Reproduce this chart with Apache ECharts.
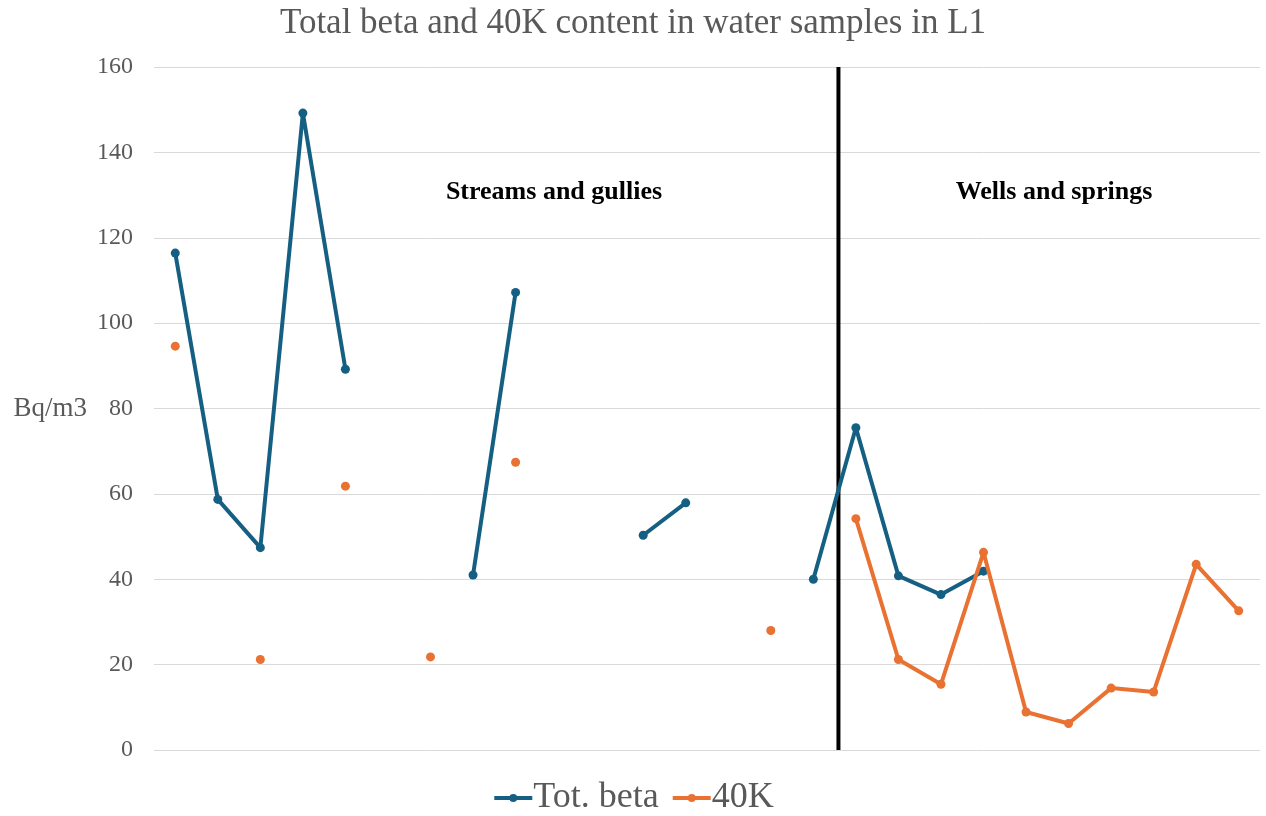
<!DOCTYPE html>
<html>
<head>
<meta charset="utf-8">
<script src="https://cdn.jsdelivr.net/npm/echarts@6/dist/echarts.min.js"></script>
<style>
  html, body { margin: 0; padding: 0; background: #fff; }
  #chart { width: 1266px; height: 816px; }
</style>
</head>
<body>
<div id="chart"></div>
<script>
// Sample slots along the x axis (26 sampling points, unlabeled)
const samples = Array.from({ length: 26 }, (_, i) => 'S' + (i + 1));

// Total beta activity, Bq/m3 (null = not measured)
const totBeta = [116.4, 58.7, 47.4, 149.2, 89.2, null, null, 41.0, 107.2, null,
                 null, 50.3, 57.9, null, null, 40.0, 75.5, 40.8, 36.4, 41.9,
                 null, null, null, null, null, null];

// 40K activity, Bq/m3 (null = not measured)
const k40 = [94.6, null, 21.2, null, 61.8, null, 21.8, null, 67.4, null,
             null, null, null, null, 28.0, null, 54.2, 21.2, 15.4, 46.3,
             8.9, 6.2, 14.5, 13.6, 43.5, 32.6];

// Divider between the two sampling groups, in category-index units
const dividerAt = 15.59;

// Group captions
const groupNames = ['Streams and gullies', 'Wells and springs'];

const yTicks = { min: 0, max: 160, interval: 20 };

const serif = '"Liberation Serif", "DejaVu Serif", serif';
const textGray = '#595959';
const blue = '#156082';
const orange = '#E97132';

const chart = echarts.init(document.getElementById('chart'));

chart.setOption({
  animation: false,
  backgroundColor: '#fff',
  title: {
    text: 'Total beta and 40K content in water samples in L1',
    left: 'center',
    top: 1,
    textStyle: { fontFamily: serif, fontSize: 35, fontWeight: 'normal', color: textGray }
  },
  legend: {
    bottom: -5,
    left: 'center',
    itemWidth: 38,
    itemHeight: 10,
    itemGap: 12,
    lineStyle: { width: 4 },
    textStyle: { fontFamily: serif, fontSize: 36, color: textGray, padding: [0, 0, 0, -4] },
    data: ['Tot. beta', '40K']
  },
  grid: { left: 154, right: 6, top: 67, bottom: 66, containLabel: false, outerBoundsMode: 'none' },
  xAxis: [
    {
      type: 'category',
      data: samples,
      boundaryGap: true,
      axisLine: { show: false },
      axisTick: { show: false },
      axisLabel: { show: false }
    },
    {
      // helper axis for the group divider
      type: 'value',
      min: -0.5,
      max: 25.5,
      show: false
    }
  ],
  yAxis: {
    type: 'value',
    min: yTicks.min,
    max: yTicks.max,
    interval: yTicks.interval,
    name: 'Bq/m3',
    nameLocation: 'middle',
    nameRotate: 0,
    nameGap: 67,
    nameTextStyle: { fontFamily: serif, fontSize: 27, color: textGray },
    axisLine: { show: false },
    axisTick: { show: false },
    axisLabel: { fontFamily: serif, fontSize: 24, color: textGray, margin: 21 },
    splitLine: { lineStyle: { color: '#d9d9d9', width: 1 } }
  },
  graphic: [
    {
      type: 'text',
      x: 554,
      y: 192,
      style: {
        text: groupNames[0], fontFamily: serif, fontSize: 26, fontWeight: 'bold', fill: '#000',
        align: 'center', verticalAlign: 'middle'
      }
    },
    {
      type: 'text',
      x: 1054,
      y: 192,
      style: {
        text: groupNames[1], fontFamily: serif, fontSize: 26, fontWeight: 'bold', fill: '#000',
        align: 'center', verticalAlign: 'middle'
      }
    }
  ],
  series: [
    {
      name: 'Tot. beta',
      type: 'line',
      data: totBeta,
      connectNulls: false,
      symbol: 'circle',
      symbolSize: 9,
      showAllSymbol: true,
      lineStyle: { color: blue, width: 4 },
      itemStyle: { color: blue },
      z: 3
    },
    {
      name: '40K',
      type: 'line',
      data: k40,
      connectNulls: false,
      symbol: 'circle',
      symbolSize: 9,
      showAllSymbol: true,
      lineStyle: { color: orange, width: 4 },
      itemStyle: { color: orange },
      z: 4
    },
    {
      name: 'divider',
      type: 'line',
      xAxisIndex: 1,
      data: [[dividerAt, yTicks.min], [dividerAt, yTicks.max]],
      symbol: 'none',
      lineStyle: { color: '#000', width: 4 },
      silent: true,
      z: 2
    }
  ]
});
</script>
</body>
</html>
